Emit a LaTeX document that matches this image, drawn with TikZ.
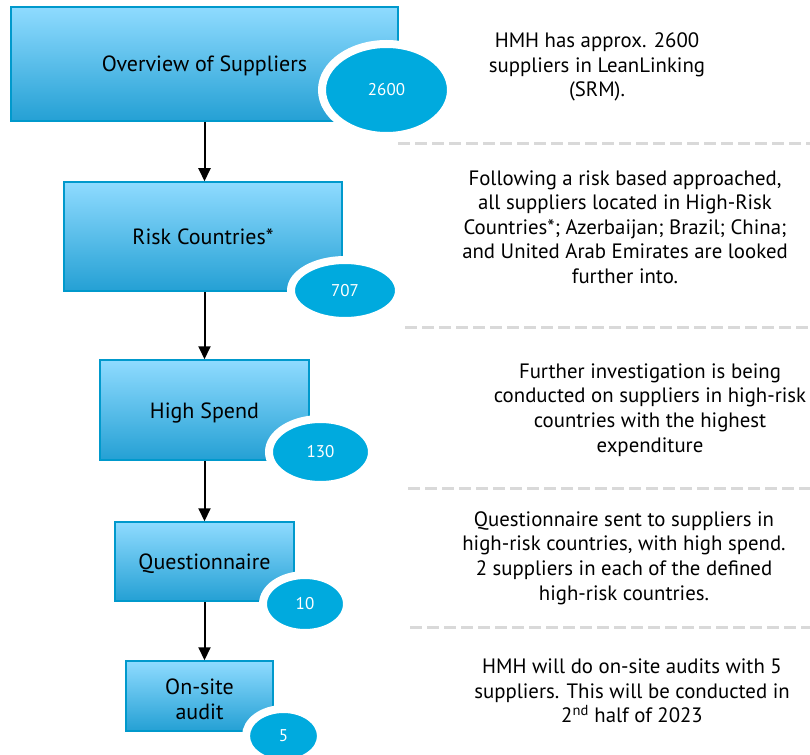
\documentclass[tikz,border=0pt]{standalone}
\usepackage{fontspec}
\setmainfont{PT Sans}
\usetikzlibrary{arrows.meta,shapes.geometric}
\definecolor{boxtop}{RGB}{143,219,255}
\definecolor{boxbot}{RGB}{36,160,212}
\definecolor{boxline}{RGB}{0,153,204}
\definecolor{ellfill}{RGB}{0,170,222}
\definecolor{dashgray}{RGB}{217,217,217}
\begin{document}
\begin{tikzpicture}[x=1pt,y=-1pt,
  stepbox/.style={rectangle, draw=boxline, line width=1.5pt, top color=boxtop, bottom color=boxbot, inner sep=0pt, font=\fontsize{22}{25}\selectfont, align=center},
  oneline/.style={text height=16pt, text depth=0pt},
  countell/.style={ellipse, fill=ellfill, draw=white, line width=8pt, inner sep=0pt, text=white, font=\fontsize{17}{20}\selectfont},
  note/.style={align=center, inner sep=0pt, font=\fontsize{20.8}{24.6}\selectfont},
  sep/.style={dashgray, line width=3pt, dash pattern=on 12pt off 5pt},
  flow/.style={-{Triangle[length=13pt,width=12pt]}, line width=2pt, black}]
\useasboundingbox (0,0) rectangle (810,754);
% boxes
\node[stepbox, oneline, minimum width=387pt, minimum height=114pt] (b1) at (204.5,64) {Overview of Suppliers};
\node[stepbox, oneline, minimum width=278pt, minimum height=109pt] (b2) at (203,236.5) {Risk Countries*};
\node[stepbox, oneline, minimum width=209pt, minimum height=100pt] (b3) at (204.5,410) {High Spend};
\node[stepbox, oneline, minimum width=179pt, minimum height=79pt] (b4) at (204.5,561.5) {Questionnaire};
\node[stepbox, minimum width=147pt, minimum height=70pt, text height=46pt, text depth=0pt] (b5) at (199.5,696) {On-site\\audit};
% counts
\node[countell, minimum width=129pt, minimum height=92pt] (e1) at (386.5,90) {2600};
\node[countell, minimum width=108pt, minimum height=61pt] (e2) at (345,290.5) {707};
\node[countell, minimum width=103pt, minimum height=66pt] (e3) at (320.5,452) {130};
\node[countell, minimum width=84pt, minimum height=58pt] (e4) at (305,604) {10};
\node[countell, minimum width=75pt, minimum height=54pt] (e5) at (283.5,736) {5};
% arrows
\draw[flow] (b1.south) -- (b1.south |- b2.north);
\draw[flow] (b1.south |- b2.south) -- (b1.south |- b3.north);
\draw[flow] (b3.south) -- (b3.south |- b4.north);
\draw[flow] (b4.south) -- (b4.south |- b5.north);
% separators
\coordinate (s1a) at (398,144); \coordinate (s1b) at (810,144);
\coordinate (s2a) at (405,327); \coordinate (s2b) at (810,327);
\coordinate (s3a) at (408,488); \coordinate (s3b) at (810,488);
\coordinate (s4a) at (410,627); \coordinate (s4b) at (810,627);
\draw[sep] (s1a) -- (s1b);
\draw[sep] (s2a) -- (s2b);
\draw[sep] (s3a) -- (s3b);
\draw[sep] (s4a) -- (s4b);
% notes
\node[note] (n1) at (597,67) {HMH has approx. 2600\\suppliers in LeanLinking\\(SRM).};
\node[note] (n2) at (625,227) {Following a risk based approached,\\all suppliers located in High-Risk\\Countries*; Azerbaijan; Brazil; China;\\and United Arab Emirates are looked\\further into.};
\node[note] (n3) at (650,410) {Further investigation is being\\conducted on suppliers in high-risk\\countries with the highest\\expenditure};
\node[note] (n4) at (624,558) {Questionnaire sent to suppliers in\\high-risk countries, with high spend.\\2 suppliers in each of the defined\\high-risk countries.};
\node[note] (n5) at (632,691) {HMH will do on-site audits with 5\\suppliers. This will be conducted in\\2\textsuperscript{nd} half of 2023};
\end{tikzpicture}
\end{document}
